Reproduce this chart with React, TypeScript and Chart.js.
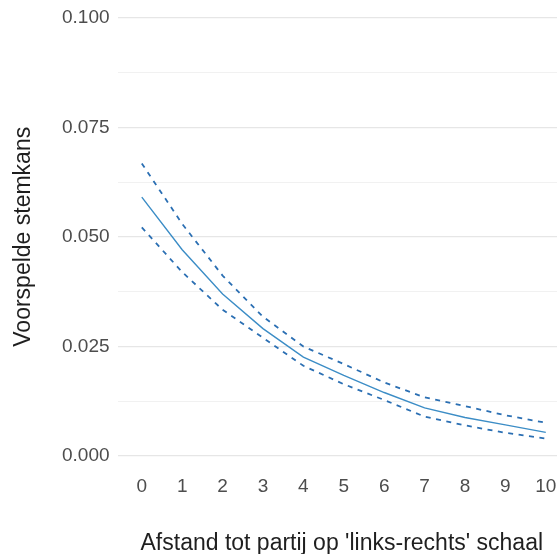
import React, { useEffect, useRef } from "react";
import { Chart, registerables } from "chart.js";

Chart.register(...registerables);

const distances = [0, 1, 2, 3, 4, 5, 6, 7, 8, 9, 10];
const predicted = [0.0591, 0.0471, 0.037, 0.0291, 0.0226, 0.0184, 0.0145, 0.011, 0.0088, 0.0071, 0.0054];
const upperCI = [0.0668, 0.053, 0.0412, 0.0318, 0.025, 0.021, 0.0168, 0.0134, 0.0114, 0.0093, 0.0076];
const lowerCI = [0.0522, 0.042, 0.0334, 0.027, 0.0206, 0.0164, 0.0128, 0.009, 0.007, 0.0053, 0.004];
const yTickValues = [0, 0.0125, 0.025, 0.0375, 0.05, 0.0625, 0.075, 0.0875, 0.1];
const yLabelValues = [0, 0.025, 0.05, 0.075, 0.1];
const xTickValues = [0, 1, 2, 3, 4, 5, 6, 7, 8, 9, 10];

const FONT = "'Liberation Sans', Arial, sans-serif";

export default function App() {
  const ref = useRef<HTMLCanvasElement | null>(null);

  useEffect(() => {
    if (!ref.current) return;
    const toPts = (arr: number[]) => distances.map((d, i) => ({ x: d, y: arr[i] }));
    const isMajor = (v: number) => yLabelValues.some((m) => Math.abs(m - v) < 1e-9);
    const chart = new Chart(ref.current, {
      type: "line",
      data: {
        datasets: [
          {
            label: "upper",
            data: toPts(upperCI),
            borderColor: "#2b6fb3",
            borderWidth: 1.8,
            borderDash: [5, 5.5],
            pointRadius: 0,
            tension: 0,
            fill: false,
          },
          {
            label: "lower",
            data: toPts(lowerCI),
            borderColor: "#2b6fb3",
            borderWidth: 1.8,
            borderDash: [5, 5.5],
            pointRadius: 0,
            tension: 0,
            fill: false,
          },
          {
            label: "predicted",
            data: toPts(predicted),
            borderColor: "#3c8dc6",
            borderWidth: 1.4,
            pointRadius: 0,
            tension: 0,
            fill: false,
          },
        ],
      },
      options: {
        responsive: false,
        animation: false,
        devicePixelRatio: 1,
        layout: { padding: 0 },
        plugins: { legend: { display: false }, tooltip: { enabled: false } },
        scales: {
          x: {
            type: "linear",
            min: -0.6,
            max: 10.5,
            afterBuildTicks: (scale: any) => {
              scale.ticks = xTickValues.map((v) => ({ value: v }));
            },
            grid: { display: false, drawTicks: false },
            border: { display: false },
            ticks: {
              autoSkip: false,
              maxRotation: 0,
              padding: 2,
              color: "#4d4d4d",
              font: { family: FONT, size: 19, lineHeight: 1.2 },
              callback: (v: any) => String(v),
            },
            title: {
              display: true,
              text: "Afstand tot partij op 'links-rechts' schaal",
              color: "#1f1f1f",
              font: { family: FONT, size: 23, lineHeight: 1.05 },
              padding: { top: 31.5, bottom: -2 },
            },
          },
          y: {
            type: "linear",
            min: -0.004,
            max: 0.10412,
            afterBuildTicks: (scale: any) => {
              scale.ticks = yTickValues.map((v) => ({ value: v }));
            },
            afterFit: (scale: any) => {
              scale.paddingTop = 0;
              scale.paddingBottom = 0;
            },
            grid: {
              drawTicks: false,
              color: (ctx: any) => (isMajor(ctx.tick?.value ?? 0) ? "#e6e6e6" : "#efefef"),
              lineWidth: (ctx: any) => (isMajor(ctx.tick?.value ?? 0) ? 1.2 : 0.9),
            },
            border: { display: false },
            ticks: {
              autoSkip: false,
              padding: 8,
              color: "#4d4d4d",
              font: { family: FONT, size: 19, lineHeight: 1.2 },
              callback: (v: any) => (isMajor(Number(v)) ? Number(v).toFixed(3) : ""),
            },
            title: {
              display: true,
              text: "Voorspelde stemkans",
              color: "#1f1f1f",
              font: { family: FONT, size: 23, lineHeight: 1.2 },
              padding: { top: 9.5, bottom: 16.9 },
            },
          },
        },
      },
    });
    return () => chart.destroy();
  }, []);

  return (
    <div
      style={{
        position: "fixed",
        left: 0,
        top: 0,
        width: 557,
        height: 554,
        overflow: "hidden",
        background: "#ffffff",
      }}
    >
      <canvas ref={ref} width={566} height={554} style={{ display: "block" }} />
    </div>
  );
}
